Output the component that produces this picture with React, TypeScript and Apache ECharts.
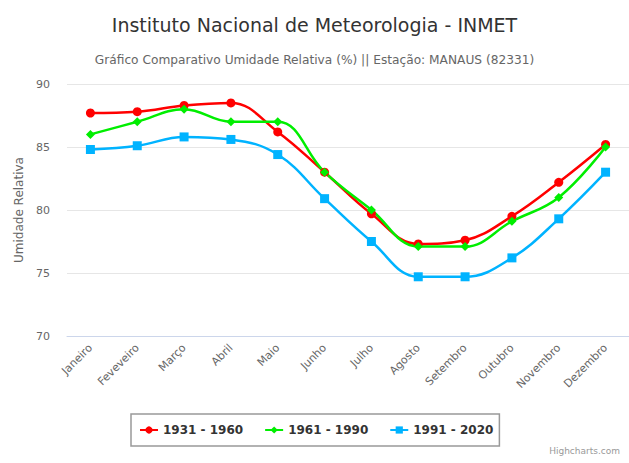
import React, { useEffect, useRef } from "react";
import * as echarts from "echarts";

const months = ["Janeiro", "Feveveiro", "Março", "Abril", "Maio", "Junho", "Julho", "Agosto", "Setembro", "Outubro", "Novembro", "Dezembro"];
const s1931 = [87.7, 87.8, 88.3, 88.5, 86.2, 83.0, 79.7, 77.3, 77.6, 79.5, 82.2, 85.2];
const s1961 = [86.0, 87.0, 88.0, 87.0, 87.0, 83.0, 80.0, 77.1, 77.1, 79.1, 81.0, 85.0];
const s1991 = [84.8, 85.1, 85.8, 85.6, 84.4, 80.9, 77.5, 74.7, 74.7, 76.2, 79.3, 83.0];
const seriesNames = ["1931 - 1960", "1961 - 1990", "1991 - 2020"];

const FONT = "'DejaVu Sans', Verdana, sans-serif";

export default function App() {
  const ref = useRef<HTMLDivElement>(null);
  useEffect(() => {
    document.body.style.margin = "0";
    const chart = echarts.init(ref.current!, null, { renderer: "svg" });
    const mk = (name: string, data: number[], color: string, symbol: string, size: number) => ({
      name,
      type: "line",
      data,
      smooth: 0.4,
      symbol,
      symbolSize: size,
      showSymbol: true,
      lineStyle: { color, width: 2.5 },
      itemStyle: { color, borderWidth: 0 },
    });
    chart.setOption({
      animation: false,
      backgroundColor: "#fff",
      textStyle: { fontFamily: FONT },
      title: [
        {
          text: "Instituto Nacional de Meteorologia - INMET",
          left: "center",
          top: 10,
          textStyle: { fontSize: 19, fontWeight: "normal", color: "#333", fontFamily: FONT },
        },
        {
          text: "Gráfico Comparativo Umidade Relativa (%) || Estação: MANAUS (82331)",
          left: "center",
          top: 49,
          textStyle: { fontSize: 12.2, fontWeight: "normal", color: "#666", fontFamily: FONT },
        },
        {
          text: "Highcharts.com",
          right: 4,
          bottom: 3,
          textStyle: { fontSize: 9, fontWeight: "normal", color: "#999", fontFamily: FONT },
        },
      ],
      legend: {
        data: seriesNames,
        left: 131,
        top: 414,
        padding: [10, 6, 10, 8],
        borderColor: "#999",
        borderWidth: 1.5,
        itemGap: 21,
        itemWidth: 18,
        itemHeight: 9,
        textStyle: { fontSize: 12, fontWeight: "bold", color: "#333", fontFamily: FONT },
      },
      grid: { left: 67, top: 84, width: 563, height: 252, containLabel: false },
      xAxis: {
        type: "category",
        data: months,
        boundaryGap: true,
        axisLine: { lineStyle: { color: "#ccd6eb" } },
        axisTick: { show: false },
        axisLabel: { rotate: 45, color: "#666", fontSize: 11, margin: 10, interval: 0, fontFamily: FONT },
      },
      yAxis: {
        type: "value",
        min: 70,
        max: 90,
        interval: 5,
        name: "Umidade Relativa",
        nameLocation: "middle",
        nameGap: 42,
        nameTextStyle: { color: "#666", fontSize: 12, fontFamily: FONT },
        axisLine: { show: false },
        axisTick: { show: false },
        splitLine: { lineStyle: { color: "#e6e6e6" } },
        axisLabel: { color: "#666", fontSize: 11, margin: 17, fontFamily: FONT },
      },
      series: [
        mk(seriesNames[0], s1931, "#ff0000", "circle", 9),
        mk(seriesNames[1], s1961, "#00ee00", "diamond", 9),
        mk(seriesNames[2], s1991, "#00b3ff", "rect", 9),
      ],
    });
    return () => chart.dispose();
  }, []);
  return <div ref={ref} style={{ width: 629, height: 463 }} />;
}
